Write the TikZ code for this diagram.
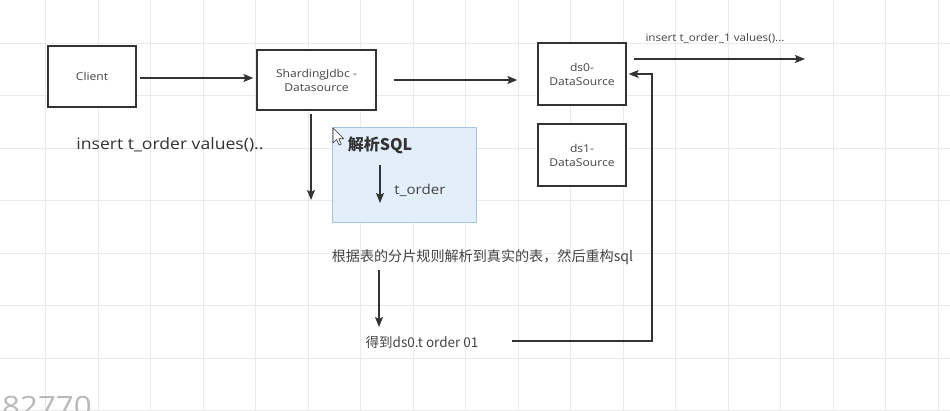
\documentclass[tikz,border=0pt]{standalone}
\usepackage{fontspec}
\setmainfont{Open Sans}[FakeStretch=1.12]
\newfontfamily\cjkfont{Noto Sans CJK SC}
\usetikzlibrary{arrows.meta}
\definecolor{lin}{HTML}{333333}
\definecolor{txt}{HTML}{444444}
\definecolor{gridc}{HTML}{EAEAEA}
\definecolor{bfill}{HTML}{E3EEFB}
\definecolor{bdraw}{HTML}{A7C3E8}
\tikzset{
  gridline/.style={draw=gridc,line width=0.8pt},
  box/.style={draw=lin,line width=1.3pt,fill=white,inner sep=0pt,align=center,text=txt,font=\fontsize{10.8}{14}\selectfont},
  conn/.style={draw=lin,line width=1.3pt,-{Stealth[length=10pt,width=8pt,inset=2pt]}},
  lbl/.style={inner sep=0pt,text=txt},
}
\begin{document}
\begin{tikzpicture}[x=1pt,y=-1pt]
\useasboundingbox (0,0) rectangle (950,410);
\clip (0,0) rectangle (950,410);
\fill[white] (0,0) rectangle (950,410);
% grid
\foreach \k in {-1,...,17} \draw[gridline] (45.5+52.5*\k,0) -- ++(0,410);
\foreach \k in {-1,...,7} \draw[gridline] (0,43+52.5*\k) -- ++(950,0);
% watermark
\node (wm) [anchor=base east,inner sep=0pt,text=gray!55,font=\fontsize{28}{28}\selectfont] at (92,416) {82770};
% boxes
\node (client) [box,minimum width=88pt,minimum height=61pt] at (92,76.5) {Client};
\node (shard) [box,minimum width=119pt,minimum height=60pt] at (316.5,80) {ShardingJdbc -\\Datasource};
\node (ds0) [box,minimum width=88pt,minimum height=62pt] at (582,74) {ds0-\\DataSource};
\node (ds1) [box,minimum width=88pt,minimum height=62pt] at (582,155) {ds1-\\DataSource};
\node (parse) [draw=bdraw,fill=bfill,line width=0.9pt,minimum width=144pt,minimum height=95pt,inner sep=0pt] at (404,174.5) {};
% cursor
\draw[fill=white,draw=black!80,line width=0.6pt,line join=round] (333,128) -- ++(0,15) -- ++(3.5,-3.5) -- ++(2.6,5.6) -- ++(2.2,-1) -- ++(-2.6,-5.4) -- ++(5,0) -- cycle;
% texts
\node (ins) [lbl,text=lin,font=\fontsize{15.7}{18}\selectfont] at (170,145) {insert t\_order values()..};
\node (sqlt) [lbl,text=lin,font=\cjkfont\bfseries\fontsize{16}{18}\selectfont] at (380,145) {解析SQL};
\node (tord) [lbl,font=\fontsize{13.5}{16}\selectfont] at (420,190) {t\_order};
\node (ins1) [lbl,font=\fontsize{10.4}{12}\selectfont] at (715,38) {insert t\_order\_1 values()...};
\node (rule) [lbl,font=\cjkfont\fontsize{14.1}{16}\selectfont] at (482.5,257) {根据表的分片规则解析到真实的表，然后重构sql};
\node (got) [lbl,font=\cjkfont\fontsize{13.5}{15}\selectfont] at (422,342) {得到ds0.t order 01};
% coordinates
\coordinate (sdown) at (311,200);
\coordinate (tdown) at (380,203);
\coordinate (tup) at (380,165);
\coordinate (out) at (805,59);
\coordinate (outs) at (634,59);
\coordinate (rdown) at (379,327);
\coordinate (rup) at (379,270);
\coordinate (gs) at (512,341);
\coordinate (c1) at (652,341);
\coordinate (c2) at (652,74);
% connectors
\draw[conn,shorten <=3pt,shorten >=3pt] (client.east |- 0,78) -- (shard.west |- 0,78);
\draw[conn,shorten <=17pt,shorten >=20pt] (shard.east) -- (ds0.west |- shard.east);
\draw[conn] (shard.south -| sdown) ++(0,3) -- (sdown);
\draw[conn] (tup) -- (tdown);
\draw[conn] (outs) -- (out);
\draw[conn] (rup) -- (rdown);
\draw[conn,shorten >=2pt] (gs) -- (c1) -- (c2) -- (ds0.east |- c2);
\end{tikzpicture}
\end{document}
